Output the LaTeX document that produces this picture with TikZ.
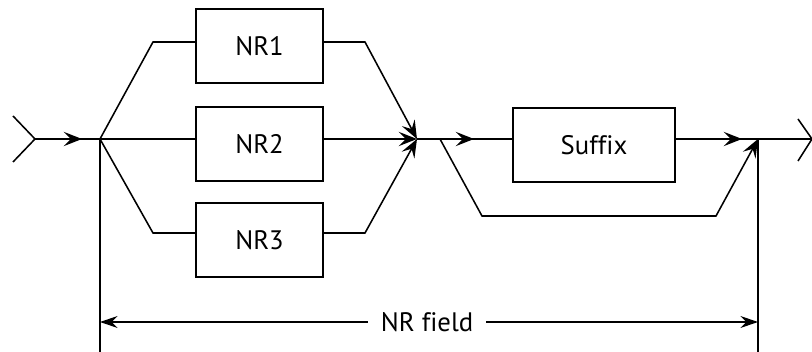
\documentclass[tikz,border=0pt]{standalone}
\usepackage{fontspec}
\setmainfont[Ligatures=NoCommon]{PT Sans}
\usepackage{tikz}
\usetikzlibrary{arrows.meta,positioning,calc}

\begin{document}
\begin{tikzpicture}[x=0.025cm, y=-0.025cm,
  line width=1.1pt,
  box/.style={draw, line width=1.2pt, minimum width=3.175cm, minimum height=1.85cm,
              font=\fontsize{19}{22}\selectfont, inner sep=0pt},
  flow/.style={-{Stealth[length=4.6mm, width=3.6mm, inset=1.8mm]}},
  dim/.style={line width=0.9pt, {Stealth[length=4.4mm, width=3mm, inset=1.5mm]}-{Stealth[length=4.4mm, width=3mm, inset=1.5mm]}}]
  \useasboundingbox (0,0) rectangle (812,352);

  % boxes
  \node[box] (nr1) at (259.5,46) {NR1};
  \node[box] (nr2) at (259.5,144) {NR2};
  \node[box] (nr3) at (259.5,240) {NR3};
  \node[box, minimum width=4.05cm] (suffix) at (594,145) {Suffix};

  % junction points
  \coordinate (in)    at (35,139);
  \coordinate (intip) at (82,139);
  \coordinate (split) at (100,139);
  \coordinate (k1)    at (153,42);
  \coordinate (k3)    at (153,233);
  \coordinate (r1)    at (365,42);
  \coordinate (r3)    at (365,233);
  \coordinate (merge) at (417,139);
  \coordinate (skip)  at (440,139);
  \coordinate (sftip) at (474,139);
  \coordinate (b1)    at (482,216);
  \coordinate (b2)    at (716,216);
  \coordinate (outtip) at (742,139);
  \coordinate (join)  at (758,139);
  \coordinate (out)   at (812,139);

  % entry and exit
  \draw (13,116) -- (in) -- (13,162);
  \draw (in) -- (split);
  \draw[flow] (in) -- (intip);
  \draw (798,119) -- (out) -- (798,161);

  % alternatives
  \draw (split) -- (k1) -- (k1 -| nr1.west);
  \draw (split) -- (split -| nr2.west);
  \draw (split) -- (k3) -- (k3 -| nr3.west);
  \draw[flow] (r1 -| nr1.east) -- (r1) -- (merge);
  \draw[flow] (merge -| nr2.east) -- (merge);
  \draw[flow] (r3 -| nr3.east) -- (r3) -- (merge);

  % optional suffix
  \draw (merge) -- (merge -| suffix.west);
  \draw[flow] (skip) -- (sftip);
  \draw[flow] (skip) -- (b1) -- (b2) -- (join);
  \draw (join -| suffix.east) -- (out);
  \draw[flow] (join -| suffix.east) -- (outtip);

  % field extent
  \coordinate (dl) at (100,322);
  \coordinate (dr) at (758,322);
  \draw (split) -- (100,352);
  \draw (join) -- (758,352);
  \draw[dim] (dl) -- (dr)
    node[pos=0.497, fill=white, inner xsep=9pt, font=\fontsize{19}{22}\selectfont] (field) {NR field};
\end{tikzpicture}
\end{document}
